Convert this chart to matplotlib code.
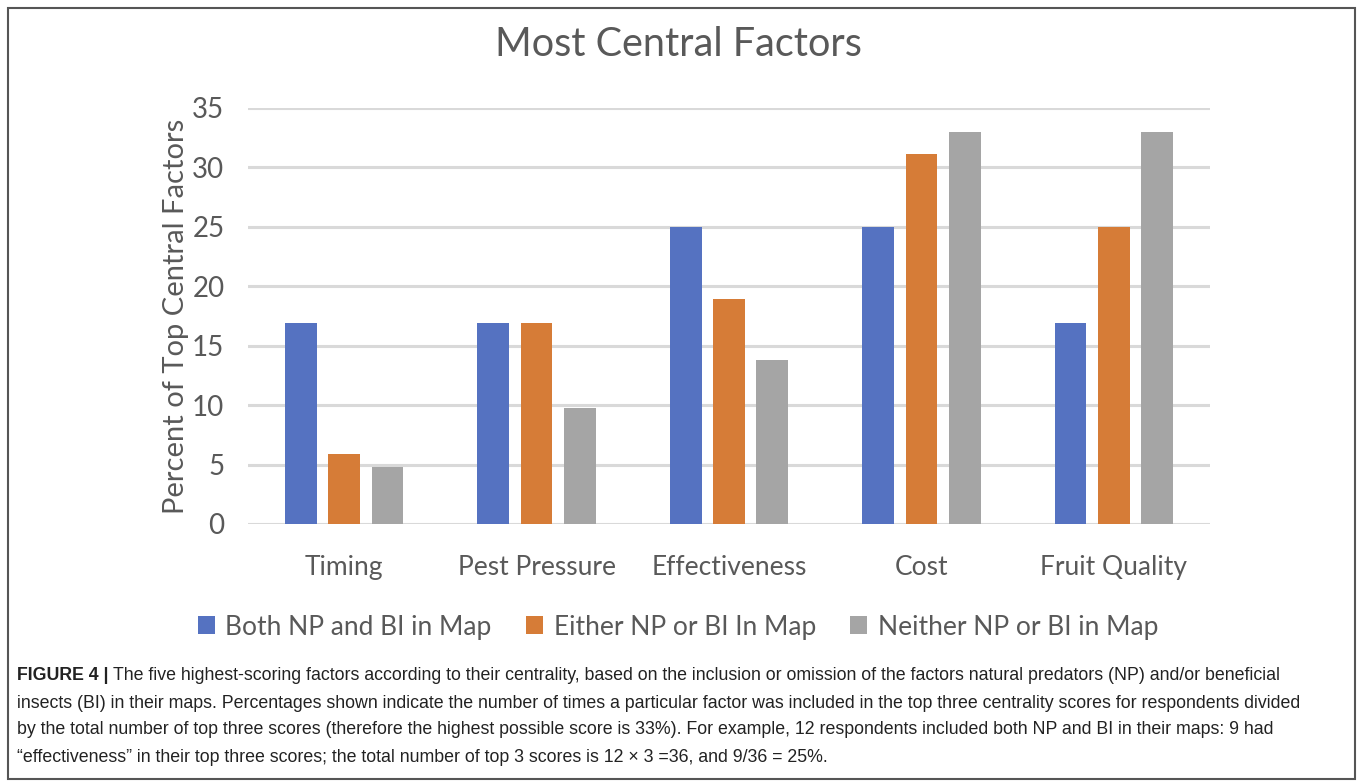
import numpy as np
import matplotlib
matplotlib.use("Agg")
import matplotlib.pyplot as plt
from matplotlib.patches import Rectangle, Patch

categories = ["Timing", "Pest Pressure", "Effectiveness", "Cost", "Fruit Quality"]
series_names = ["Both NP and BI in Map", "Either NP or BI In Map", "Neither NP or BI in Map"]
both_vals = [16.9, 16.9, 25.0, 25.0, 16.9]
either_vals = [5.9, 16.9, 18.9, 31.1, 25.0]
neither_vals = [4.8, 9.8, 13.8, 33.0, 33.0]
yticks = [0, 5, 10, 15, 20, 25, 30, 35]

colors = ["#5572c1", "#d67c37", "#a5a5a5"]
text_col = "#595959"
chart_font = ["Lato", "DejaVu Sans"]
cap_font = ["Liberation Sans", "DejaVu Sans"]

W, H = 1358, 781
fig = plt.figure(figsize=(W / 100, H / 100), dpi=100)

ax = fig.add_axes([248 / W, 1 - 524 / H, (1210 - 248) / W, (524 - 108) / H])
x = np.arange(len(categories))
width = 0.165
step = 0.225
for i, (vals, c) in enumerate(zip([both_vals, either_vals, neither_vals], colors)):
    ax.bar(x + (i - 1) * step, vals, width=width, color=c, zorder=3)

ax.set_xlim(-0.5, len(categories) - 0.5)
ax.set_ylim(0, 35)
ax.set_yticks(yticks)
ax.yaxis.grid(True, color="#d9d9d9", lw=2.2, zorder=0)
for s in ax.spines.values():
    s.set_visible(False)
ax.tick_params(length=0, colors=text_col, labelsize=20)
ax.tick_params(axis="y", pad=17)
ax.tick_params(axis="x", pad=22)
ax.set_xticks(x)
ax.set_xticklabels(categories, fontsize=19, family=chart_font, color=text_col)
for lab in ax.get_yticklabels():
    lab.set_family(chart_font)
ax.set_ylabel("Percent of Top Central Factors", fontsize=21, family=chart_font,
              color=text_col, labelpad=2)

fig.text(678 / W, 1 - 45 / H, "Most Central Factors", ha="center", va="center",
         fontsize=28.5, family=chart_font, color=text_col)

handles = [Patch(facecolor=c, edgecolor="none") for c in colors]
fig.legend(handles, series_names, loc="center", bbox_to_anchor=(678 / W, 1 - 627 / H),
           ncol=3, frameon=False, prop={"family": chart_font, "size": 19},
           labelcolor=text_col, handlelength=0.65, handleheight=0.65,
           handletextpad=0.4, columnspacing=1.3)

# frame round the figure
fig.patches.append(Rectangle((8 / W, 2 / H), (1355 - 8) / W, (779 - 8) / H,
                             transform=fig.transFigure, fill=False,
                             edgecolor="#555555", lw=1.5))

caption = [
    "The five highest-scoring factors according to their centrality, based on the inclusion or omission of the factors natural predators (NP) and/or beneficial",
    "insects (BI) in their maps. Percentages shown indicate the number of times a particular factor was included in the top three centrality scores for respondents divided",
    "by the total number of top three scores (therefore the highest possible score is 33%). For example, 12 respondents included both NP and BI in their maps: 9 had",
    "\u201ceffectiveness\u201d in their top three scores; the total number of top 3 scores is 12 \u00d7 3 =36, and 9/36 = 25%.",
]
cap_y = [676, 703, 730, 757]
cap_x = 17 / W
cap_size = 12.8
bold = fig.text(cap_x, 1 - cap_y[0] / H, "FIGURE 4 |", fontsize=cap_size, weight="bold",
                family=cap_font, color="#222222", va="center")
fig.canvas.draw()
bb = bold.get_window_extent(renderer=fig.canvas.get_renderer())
for i, (line, yy) in enumerate(zip(caption, cap_y)):
    xx = (bb.x1 + 5) / W if i == 0 else cap_x
    fig.text(xx, 1 - yy / H, line, fontsize=cap_size, family=cap_font,
             color="#222222", va="center")

fig.savefig("out.png", dpi=100)
